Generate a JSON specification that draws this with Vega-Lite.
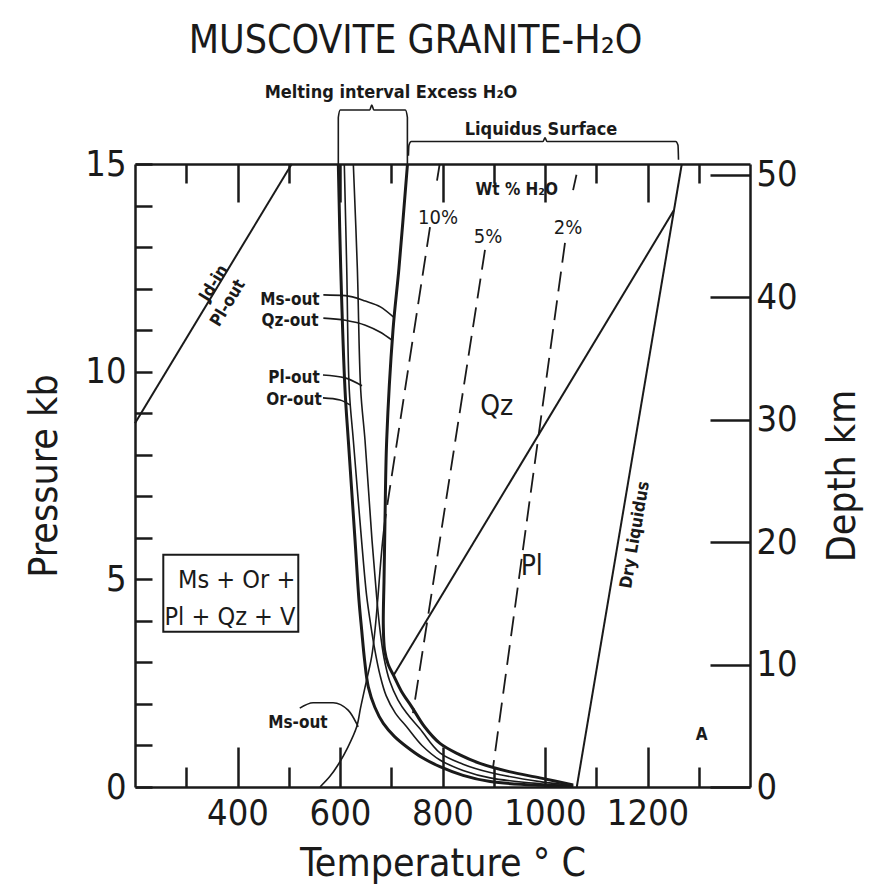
{
  "$schema": "https://vega.github.io/schema/vega-lite/v6.json",
  "autosize": {"type": "none"},
  "padding": {"left": 135, "top": 164, "right": 126, "bottom": 108},
  "width": 615,
  "height": 623,
  "background": "white",
  "title": {"text": "MUSCOVITE GRANITE-H₂O", "font": "Liberation Sans Narrow, DejaVu Sans Condensed, Roboto Condensed, sans-serif", "fontSize": 39, "fontWeight": "normal", "color": "#1a1a1a", "offset": 23, "dx": -27},
  "config": {
    "view": {"stroke": null},
    "axis": {"domainColor": "#1a1a1a", "tickColor": "#1a1a1a", "labelColor": "#1a1a1a", "titleColor": "#1a1a1a", "domainWidth": 2.5, "tickWidth": 2.5, "grid": false, "labelFont": "Liberation Sans Narrow, DejaVu Sans Condensed, Roboto Condensed, sans-serif", "titleFont": "Liberation Sans Narrow, DejaVu Sans Condensed, Roboto Condensed, sans-serif", "titleFontWeight": "normal", "labelFontSize": 36, "titleFontSize": 39}
  },
  "datasets": {
    "curves": [
      {"id": "solidus", "T": 596.7, "P": 15}, {"id": "solidus", "T": 601.4, "P": 12.5}, {"id": "solidus", "T": 609.8, "P": 9.56}, {"id": "solidus", "T": 616.2, "P": 8.35}, {"id": "solidus", "T": 629.3, "P": 5.95}, {"id": "solidus", "T": 637, "P": 4.5}, {"id": "solidus", "T": 642.3, "P": 3.78}, {"id": "solidus", "T": 648, "P": 3.05}, {"id": "solidus", "T": 655.2, "P": 2.41}, {"id": "solidus", "T": 668, "P": 1.92}, {"id": "solidus", "T": 684.5, "P": 1.53}, {"id": "solidus", "T": 706, "P": 1.22}, {"id": "solidus", "T": 730, "P": 0.97}, {"id": "solidus", "T": 760, "P": 0.71}, {"id": "solidus", "T": 795, "P": 0.49}, {"id": "solidus", "T": 840, "P": 0.28}, {"id": "solidus", "T": 893, "P": 0.13}, {"id": "solidus", "T": 990, "P": 0.04}, {"id": "solidus", "T": 1055, "P": 0.02},
      {"id": "qzout", "T": 731.7, "P": 15}, {"id": "qzout", "T": 715.1, "P": 12.5}, {"id": "qzout", "T": 703.4, "P": 11}, {"id": "qzout", "T": 691.1, "P": 8.35}, {"id": "qzout", "T": 687.8, "P": 6.43}, {"id": "qzout", "T": 685.9, "P": 4.98}, {"id": "qzout", "T": 684.5, "P": 3.9}, {"id": "qzout", "T": 687, "P": 3.3}, {"id": "qzout", "T": 694, "P": 2.95}, {"id": "qzout", "T": 704, "P": 2.7}, {"id": "qzout", "T": 720, "P": 2.3}, {"id": "qzout", "T": 740, "P": 1.93}, {"id": "qzout", "T": 765, "P": 1.45}, {"id": "qzout", "T": 795, "P": 1.05}, {"id": "qzout", "T": 833, "P": 0.78}, {"id": "qzout", "T": 873, "P": 0.57}, {"id": "qzout", "T": 930, "P": 0.37}, {"id": "qzout", "T": 990, "P": 0.22}, {"id": "qzout", "T": 1055, "P": 0.05},
      {"id": "orout", "T": 608.4, "P": 15}, {"id": "orout", "T": 613.1, "P": 12.5}, {"id": "orout", "T": 618.1, "P": 9.56}, {"id": "orout", "T": 626, "P": 8.35}, {"id": "orout", "T": 642, "P": 5.95}, {"id": "orout", "T": 652, "P": 4.6}, {"id": "orout", "T": 660, "P": 3.9}, {"id": "orout", "T": 668, "P": 3.3}, {"id": "orout", "T": 678, "P": 2.7}, {"id": "orout", "T": 690, "P": 2.2}, {"id": "orout", "T": 708, "P": 1.78}, {"id": "orout", "T": 730, "P": 1.45}, {"id": "orout", "T": 760, "P": 1.0}, {"id": "orout", "T": 795, "P": 0.65}, {"id": "orout", "T": 840, "P": 0.4}, {"id": "orout", "T": 893, "P": 0.22}, {"id": "orout", "T": 990, "P": 0.08}, {"id": "orout", "T": 1055, "P": 0.03},
      {"id": "plout", "T": 626, "P": 15}, {"id": "plout", "T": 633.8, "P": 12.5}, {"id": "plout", "T": 640.4, "P": 9.56}, {"id": "plout", "T": 648.8, "P": 8.35}, {"id": "plout", "T": 662.4, "P": 5.95}, {"id": "plout", "T": 671.6, "P": 4.57}, {"id": "plout", "T": 678, "P": 3.78}, {"id": "plout", "T": 686, "P": 3.1}, {"id": "plout", "T": 697, "P": 2.55}, {"id": "plout", "T": 713, "P": 2.1}, {"id": "plout", "T": 730, "P": 1.78}, {"id": "plout", "T": 756, "P": 1.4}, {"id": "plout", "T": 795, "P": 0.82}, {"id": "plout", "T": 840, "P": 0.55}, {"id": "plout", "T": 893, "P": 0.35}, {"id": "plout", "T": 990, "P": 0.13}, {"id": "plout", "T": 1055, "P": 0.04},
      {"id": "msout", "T": 687.8, "P": 6.43}, {"id": "msout", "T": 683, "P": 5.9}, {"id": "msout", "T": 678, "P": 5.2}, {"id": "msout", "T": 674, "P": 4.57}, {"id": "msout", "T": 668.3, "P": 3.78}, {"id": "msout", "T": 661.8, "P": 3.14}, {"id": "msout", "T": 649, "P": 2.41}, {"id": "msout", "T": 640, "P": 1.9}, {"id": "msout", "T": 632.6, "P": 1.45}, {"id": "msout", "T": 615, "P": 0.95}, {"id": "msout", "T": 596, "P": 0.53}, {"id": "msout", "T": 580, "P": 0.25}, {"id": "msout", "T": 561, "P": 0},
      {"id": "cotectic", "T": 704, "P": 2.68}, {"id": "cotectic", "T": 1251.7, "P": 13.89},
      {"id": "dryliq", "T": 1062, "P": 0}, {"id": "dryliq", "T": 1266.9, "P": 15},
      {"id": "jdin", "T": 200, "P": 8.76}, {"id": "jdin", "T": 505.8, "P": 15},
      {"id": "lMs", "T": 567.5, "P": 11.85}, {"id": "lMs", "T": 610.4, "P": 11.83}, {"id": "lMs", "T": 649.5, "P": 11.7}, {"id": "lMs", "T": 678.8, "P": 11.56}, {"id": "lMs", "T": 704, "P": 11.32},
      {"id": "lQz", "T": 567.5, "P": 11.29}, {"id": "lQz", "T": 610.4, "P": 11.24}, {"id": "lQz", "T": 649.5, "P": 11.12}, {"id": "lQz", "T": 678.8, "P": 10.95}, {"id": "lQz", "T": 701.5, "P": 10.76},
      {"id": "lPl", "T": 566.8, "P": 9.92}, {"id": "lPl", "T": 609.8, "P": 9.85}, {"id": "lPl", "T": 642.9, "P": 9.66},
      {"id": "lOr", "T": 566.8, "P": 9.37}, {"id": "lOr", "T": 600, "P": 9.32}, {"id": "lOr", "T": 619.5, "P": 9.2},
      {"id": "lMs2", "T": 521.5, "P": 1.9}, {"id": "lMs2", "T": 547.5, "P": 2.03}, {"id": "lMs2", "T": 586.5, "P": 2.03}, {"id": "lMs2", "T": 615.8, "P": 1.85}, {"id": "lMs2", "T": 632.2, "P": 1.53}, {"id": "lMs2", "T": 635.4, "P": 1.45},
      {"id": "bMelt", "T": 596.7, "P": 15}, {"id": "bMelt", "T": 596.7, "P": 16.12}, {"id": "bMelt", "T": 600.5, "P": 16.3}, {"id": "bMelt", "T": 658, "P": 16.3}, {"id": "bMelt", "T": 662, "P": 16.42}, {"id": "bMelt", "T": 666, "P": 16.3}, {"id": "bMelt", "T": 727.5, "P": 16.3}, {"id": "bMelt", "T": 731.5, "P": 16.12}, {"id": "bMelt", "T": 731.5, "P": 15},
      {"id": "bLiq", "T": 733.5, "P": 15.2}, {"id": "bLiq", "T": 734.5, "P": 15.45}, {"id": "bLiq", "T": 739, "P": 15.54}, {"id": "bLiq", "T": 996, "P": 15.54}, {"id": "bLiq", "T": 1000, "P": 15.63}, {"id": "bLiq", "T": 1004, "P": 15.54}, {"id": "bLiq", "T": 1255, "P": 15.54}, {"id": "bLiq", "T": 1259.5, "P": 15.45}, {"id": "bLiq", "T": 1260.5, "P": 15.1},
      {"id": "h10a", "T": 794.5, "P": 15}, {"id": "h10a", "T": 789.3, "P": 14.6},
      {"id": "h10", "T": 775.6, "P": 13.48}, {"id": "h10", "T": 687.8, "P": 6.43},
      {"id": "h5", "T": 882.9, "P": 12.93}, {"id": "h5", "T": 742.4, "P": 1.78},
      {"id": "h2a", "T": 1061.4, "P": 14.74}, {"id": "h2a", "T": 1054.8, "P": 14.37},
      {"id": "h2", "T": 1039, "P": 13.1}, {"id": "h2", "T": 898.5, "P": 0.46}
    ],
    "labels": [
      {"kind": "small", "txt": "Ms-out", "T": 502.4, "P": 11.73},
      {"kind": "small", "txt": "Qz-out", "T": 502.4, "P": 11.21},
      {"kind": "small", "txt": "Pl-out", "T": 510.2, "P": 9.85},
      {"kind": "small", "txt": "Or-out", "T": 510.2, "P": 9.32},
      {"kind": "small", "txt": "Ms-out", "T": 518, "P": 1.53},
      {"kind": "small", "txt": "A", "T": 1305.8, "P": 1.25},
      {"kind": "small", "txt": "Wt % H₂O", "T": 944.8, "P": 14.37},
      {"kind": "pct", "txt": "10%", "T": 791.2, "P": 13.7},
      {"kind": "pct", "txt": "5%", "T": 888.8, "P": 13.25},
      {"kind": "pct", "txt": "2%", "T": 1044.9, "P": 13.46},
      {"kind": "big", "txt": "Qz", "T": 905.8, "P": 9.16},
      {"kind": "big", "txt": "Pl", "T": 974.1, "P": 5.3},
      {"kind": "box", "txt": "Ms + Or +", "T": 398.4, "P": 4.98},
      {"kind": "box", "txt": "Pl + Qz + V", "T": 385.4, "P": 4.1},
      {"kind": "jd", "txt": "Jd-in", "T": 354, "P": 12.13},
      {"kind": "jd", "txt": "Pl-out", "T": 381.5, "P": 11.65},
      {"kind": "dry", "txt": "Dry Liquidus", "T": 1175.6, "P": 6.07},
      {"kind": "top", "txt": "Melting interval Excess H₂O", "T": 699.5, "P": 16.7},
      {"kind": "top", "txt": "Liquidus Surface", "T": 992.2, "P": 15.82}
    ]
  },
  "layer": [
    {
      "encoding": {
        "x": {"field": "T", "type": "quantitative", "scale": {"domain": [200, 1400], "nice": false, "zero": false},
          "axis": {"orient": "bottom", "values": [300, 400, 500, 600, 700, 800, 900, 1000, 1100, 1200, 1300], "format": "d", "labelExpr": "datum.value % 200 === 0 ? datum.label : ''", "tickSize": {"condition": {"test": "datum.value % 200 === 0", "value": -40}, "value": -20}, "labelPadding": 49, "title": "Temperature ° C", "titlePadding": 13}},
        "y": {"field": "P", "type": "quantitative", "scale": {"domain": [0, 15], "nice": false, "zero": false},
          "axis": {"orient": "left", "values": [0, 1, 2, 3, 4, 5, 6, 7, 8, 9, 10, 11, 12, 13, 14, 15], "labelExpr": "datum.value % 5 === 0 ? datum.label : ''", "tickSize": -17, "labelPadding": 26, "title": "Pressure kb", "titlePadding": 20}}
      },
      "layer": [
        {"data": {"values": [{"T": 255.2, "T2": 518.6, "P": 3.74, "P2": 5.59}]},
         "mark": {"type": "rect", "fill": null, "stroke": "#1a1a1a", "strokeWidth": 2},
         "encoding": {"x2": {"field": "T2"}, "y2": {"field": "P2"}}},
        {"data": {"name": "curves"}, "transform": [{"filter": {"field": "id", "oneOf": ["solidus", "qzout"]}}],
         "mark": {"type": "line", "interpolate": "catmull-rom", "stroke": "#1a1a1a", "strokeWidth": 3},
         "encoding": {"detail": {"field": "id"}, "order": {"value": null}}},
        {"data": {"name": "curves"}, "transform": [{"filter": {"field": "id", "oneOf": ["orout", "plout", "msout"]}}],
         "mark": {"type": "line", "interpolate": "catmull-rom", "stroke": "#1a1a1a", "strokeWidth": 1.6},
         "encoding": {"detail": {"field": "id"}, "order": {"value": null}}},
        {"data": {"name": "curves"}, "transform": [{"filter": {"field": "id", "oneOf": ["cotectic", "dryliq", "jdin"]}}],
         "mark": {"type": "line", "stroke": "#1a1a1a", "strokeWidth": 2},
         "encoding": {"detail": {"field": "id"}, "order": {"value": null}}},
        {"data": {"name": "curves"}, "transform": [{"filter": {"field": "id", "oneOf": ["lMs", "lQz", "lPl", "lOr", "lMs2", "bMelt", "bLiq"]}}],
         "mark": {"type": "line", "interpolate": "monotone", "stroke": "#1a1a1a", "strokeWidth": 1.6},
         "encoding": {"detail": {"field": "id"}, "order": {"value": null}}},
        {"data": {"name": "curves"}, "transform": [{"filter": {"field": "id", "oneOf": ["h10a", "h10", "h5", "h2a", "h2"]}}],
         "mark": {"type": "line", "stroke": "#1a1a1a", "strokeWidth": 1.8, "strokeDash": [20, 9]},
         "encoding": {"detail": {"field": "id"}, "order": {"value": null}}},
        {"data": {"name": "labels"}, "transform": [{"filter": {"field": "kind", "equal": "small"}}],
         "mark": {"type": "text", "font": "Liberation Sans Narrow, DejaVu Sans Condensed, sans-serif", "fontSize": 17, "fontWeight": "bold", "color": "#1a1a1a"},
         "encoding": {"text": {"field": "txt"}}},
        {"data": {"name": "labels"}, "transform": [{"filter": {"field": "kind", "equal": "pct"}}],
         "mark": {"type": "text", "font": "Liberation Sans Narrow, DejaVu Sans Condensed, sans-serif", "fontSize": 20, "color": "#1a1a1a"},
         "encoding": {"text": {"field": "txt"}}},
        {"data": {"name": "labels"}, "transform": [{"filter": {"field": "kind", "equal": "big"}}],
         "mark": {"type": "text", "font": "Liberation Sans Narrow, DejaVu Sans Condensed, sans-serif", "fontSize": 28, "color": "#1a1a1a"},
         "encoding": {"text": {"field": "txt"}}},
        {"data": {"name": "labels"}, "transform": [{"filter": {"field": "kind", "equal": "box"}}],
         "mark": {"type": "text", "font": "Liberation Sans Narrow, DejaVu Sans Condensed, sans-serif", "fontSize": 25, "color": "#1a1a1a"},
         "encoding": {"text": {"field": "txt"}}},
        {"data": {"name": "labels"}, "transform": [{"filter": {"field": "kind", "equal": "jd"}}],
         "mark": {"type": "text", "font": "Liberation Sans Narrow, DejaVu Sans Condensed, sans-serif", "fontSize": 17, "fontWeight": "bold", "angle": 301.3, "color": "#1a1a1a"},
         "encoding": {"text": {"field": "txt"}}},
        {"data": {"name": "labels"}, "transform": [{"filter": {"field": "kind", "equal": "dry"}}],
         "mark": {"type": "text", "font": "Liberation Sans Narrow, DejaVu Sans Condensed, sans-serif", "fontSize": 17, "fontWeight": "bold", "angle": 279.6, "color": "#1a1a1a"},
         "encoding": {"text": {"field": "txt"}}},
        {"data": {"name": "labels"}, "transform": [{"filter": {"field": "kind", "equal": "top"}}],
         "mark": {"type": "text", "font": "Liberation Sans Narrow, DejaVu Sans Condensed, sans-serif", "fontSize": 18, "fontWeight": "bold", "color": "#1a1a1a"},
         "encoding": {"text": {"field": "txt"}}}
      ]
    },
    {
      "data": {"values": [{"T": 1400, "D": 0}, {"T": 1400, "D": 50.86}]},
      "mark": {"type": "point", "opacity": 0},
      "encoding": {
        "x": {"field": "T", "type": "quantitative", "scale": {"domain": [200, 1400], "nice": false, "zero": false},
          "axis": {"orient": "top", "values": [300, 400, 500, 600, 700, 800, 900, 1000, 1100, 1200, 1300], "labels": false, "tickSize": {"condition": {"test": "datum.value % 200 === 0", "value": -38}, "value": -19}, "title": null}},
        "y": {"field": "D", "type": "quantitative", "scale": {"domain": [0, 50.86], "nice": false, "zero": false},
          "axis": {"orient": "right", "values": [0, 10, 20, 30, 40, 50], "tickSize": -40, "labelPadding": 46, "title": "Depth km", "titleAngle": 270, "titleBaseline": "top", "titlePadding": 26}}
      }
    }
  ],
  "resolve": {"scale": {"y": "independent"}}
}
